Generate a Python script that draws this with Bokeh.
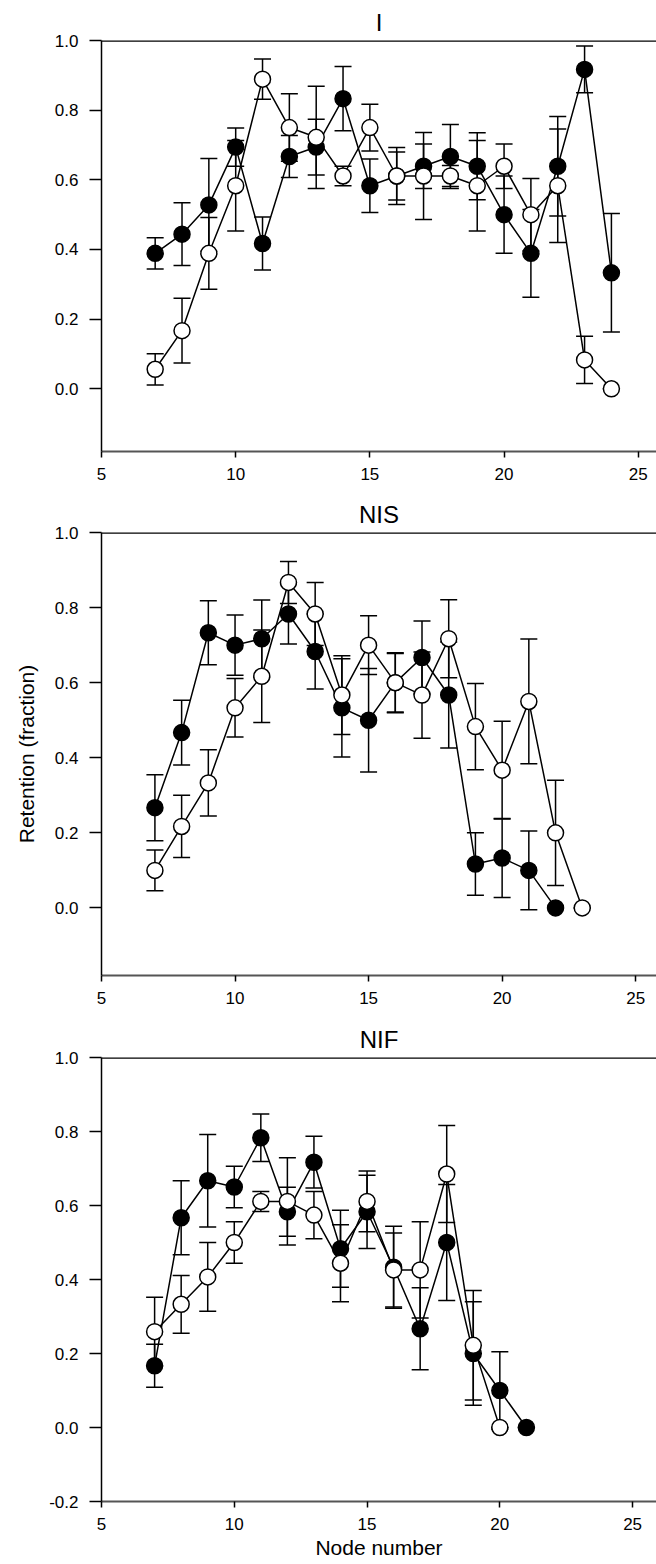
from bokeh.plotting import figure
from bokeh.layouts import column
from bokeh.models import FixedTicker, PrintfTickFormatter, Span, Range1d
from bokeh.embed import file_html
from bokeh.resources import INLINE

FONT = "Liberation Sans"

# ---- I ----
i_filled_x = list(range(7, 25))
i_filled_y = [0.389, 0.444, 0.528, 0.694, 0.417, 0.667, 0.694, 0.833, 0.583,
              0.611, 0.639, 0.667, 0.639, 0.500, 0.389, 0.639, 0.917, 0.333]
i_filled_err = [0.045, 0.090, 0.133, 0.055, 0.076, 0.060, 0.080, 0.092, 0.077,
                0.069, 0.064, 0.092, 0.096, 0.111, 0.126, 0.143, 0.067, 0.170]
i_open_x = list(range(7, 25))
i_open_y = [0.056, 0.167, 0.389, 0.583, 0.889, 0.750, 0.722, 0.611, 0.750,
            0.611, 0.611, 0.611, 0.583, 0.639, 0.500, 0.583, 0.083, 0.000]
i_open_err = [0.045, 0.093, 0.103, 0.130, 0.058, 0.097, 0.147, 0.028, 0.067,
              0.082, 0.125, 0.030, 0.130, 0.064, 0.104, 0.163, 0.068, 0.000]

# ---- NIS ----
nis_filled_x = list(range(7, 23))
nis_filled_y = [0.267, 0.467, 0.733, 0.700, 0.717, 0.783, 0.683, 0.533,
                0.500, 0.600, 0.667, 0.567, 0.117, 0.133, 0.100, 0.000]
nis_filled_err = [0.088, 0.086, 0.085, 0.080, 0.103, 0.080, 0.100, 0.131,
                  0.138, 0.080, 0.097, 0.141, 0.083, 0.105, 0.105, 0.000]
nis_open_x = list(range(7, 24))
nis_open_y = [0.100, 0.217, 0.333, 0.533, 0.617, 0.867, 0.783, 0.567, 0.700,
              0.600, 0.567, 0.717, 0.483, 0.367, 0.550, 0.200, 0.000]
nis_open_err = [0.054, 0.083, 0.088, 0.078, 0.123, 0.056, 0.084, 0.105, 0.078,
                0.078, 0.115, 0.104, 0.115, 0.130, 0.166, 0.140, 0.000]

# ---- NIF ----
nif_filled_x = list(range(7, 22))
nif_filled_y = [0.167, 0.567, 0.667, 0.650, 0.783, 0.583, 0.717, 0.483,
                0.583, 0.433, 0.267, 0.500, 0.200, 0.100, 0.000]
nif_filled_err = [0.058, 0.100, 0.125, 0.056, 0.064, 0.066, 0.070, 0.104,
                  0.099, 0.111, 0.111, 0.157, 0.140, 0.105, 0.000]
nif_open_x = list(range(7, 21))
nif_open_y = [0.259, 0.333, 0.407, 0.500, 0.611, 0.611, 0.574, 0.444,
              0.611, 0.426, 0.426, 0.685, 0.222, 0.000]
nif_open_err = [0.093, 0.078, 0.093, 0.056, 0.027, 0.118, 0.064, 0.104,
                0.082, 0.100, 0.130, 0.131, 0.148, 0.000]

x_ticks = [5, 10, 15, 20, 25]
y_ticks_short = [0.0, 0.2, 0.4, 0.6, 0.8, 1.0]
y_ticks_long = [-0.2, 0.0, 0.2, 0.4, 0.6, 0.8, 1.0]


def error_bars(p, xs, ys, errs):
    lo = [y - e for y, e in zip(ys, errs)]
    hi = [y + e for y, e in zip(ys, errs)]
    p.segment(x0=xs, y0=lo, x1=xs, y1=hi, line_color="black", line_width=1.5)
    p.scatter(xs, hi, marker="dash", size=17, line_color="black", line_width=1.5)
    p.scatter(xs, lo, marker="dash", size=17, line_color="black", line_width=1.5)


def panel(title, fx, fy, fe, ox, oy, oe, y_start, y_ticks, x_end,
          height, top, bottom, xlabel=None, ylabel=None):
    p = figure(width=656, height=height, output_backend="svg",
               toolbar_location=None,
               x_range=Range1d(5, x_end), y_range=Range1d(y_start, 1.0),
               min_border_left=101, min_border_right=0,
               min_border_top=top, min_border_bottom=bottom)
    p.outline_line_color = None
    p.grid.visible = False
    p.background_fill_color = "white"
    p.border_fill_color = "white"

    p.title.text = title
    p.title.align = "center"
    p.title.text_font = FONT
    p.title.text_font_size = "24px"
    p.title.text_font_style = "normal"
    p.title.text_color = "black"
    p.title.standoff = 10

    xa = p.xaxis[0]
    xa.ticker = FixedTicker(ticks=x_ticks)
    xa.major_tick_out = 6
    xa.major_tick_in = 0
    xa.minor_tick_line_color = None
    xa.axis_line_color = "#555555"
    xa.axis_line_width = 2
    xa.major_tick_line_color = "black"
    xa.major_tick_line_width = 1.5
    xa.major_label_text_font = FONT
    xa.major_label_text_font_size = "17px"
    xa.major_label_text_color = "black"
    xa.major_label_standoff = 10
    if xlabel:
        xa.axis_label = xlabel
        xa.axis_label_text_font = FONT
        xa.axis_label_text_font_size = "21px"
        xa.axis_label_text_font_style = "normal"
        xa.axis_label_text_color = "black"
        xa.axis_label_standoff = 3

    ya = p.yaxis[0]
    ya.ticker = FixedTicker(ticks=y_ticks)
    ya.formatter = PrintfTickFormatter(format="%.1f")
    ya.major_tick_out = 12
    ya.major_tick_in = 0
    ya.minor_tick_line_color = None
    ya.axis_line_color = "black"
    ya.axis_line_width = 1.5
    ya.major_tick_line_color = "black"
    ya.major_tick_line_width = 1.5
    ya.major_label_text_font = FONT
    ya.major_label_text_font_size = "17px"
    ya.major_label_text_color = "black"
    ya.major_label_standoff = 11
    if ylabel:
        ya.axis_label = ylabel
        ya.axis_label_text_font = FONT
        ya.axis_label_text_font_size = "21px"
        ya.axis_label_text_font_style = "normal"
        ya.axis_label_text_color = "black"
        ya.axis_label_standoff = 14

    # top frame edge
    p.add_layout(Span(location=1.0, dimension="width", line_color="black",
                      line_width=2.5))

    error_bars(p, fx, fy, fe)
    error_bars(p, ox, oy, oe)
    p.line(fx, fy, line_color="black", line_width=1.5)
    p.line(ox, oy, line_color="black", line_width=1.5)
    p.scatter(fx, fy, marker="circle", size=16, fill_color="black",
              line_color="black", line_width=1.5)
    p.scatter(ox, oy, marker="circle", size=16, fill_color="white",
              line_color="black", line_width=1.5)
    return p


p1 = panel("I", i_filled_x, i_filled_y, i_filled_err,
           i_open_x, i_open_y, i_open_err,
           -0.18, y_ticks_short, 25.68, height=490, top=40, bottom=39)
p2 = panel("NIS", nis_filled_x, nis_filled_y, nis_filled_err,
           nis_open_x, nis_open_y, nis_open_err,
           -0.18, y_ticks_short, 25.78, height=527, top=42, bottom=42,
           ylabel="Retention (fraction)")
p3 = panel("NIF", nif_filled_x, nif_filled_y, nif_filled_err,
           nif_open_x, nif_open_y, nif_open_err,
           -0.2, y_ticks_long, 25.9, height=547, top=40, bottom=63,
           xlabel="Node number")

layout = column(p1, p2, p3, spacing=0)
open("out.html", "w").write(file_html(layout, INLINE))
